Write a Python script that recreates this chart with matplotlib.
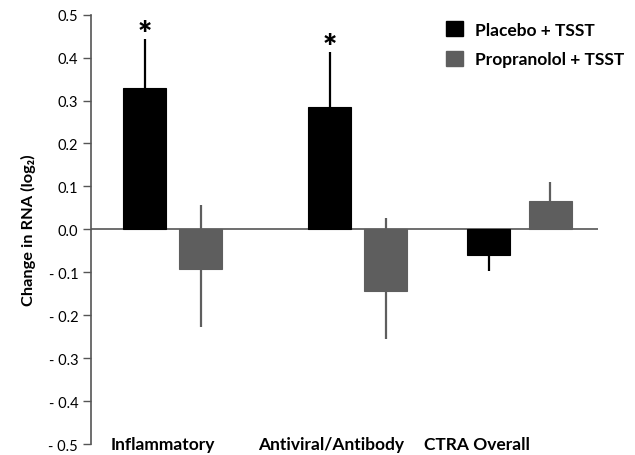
import numpy as np
import matplotlib
matplotlib.use('Agg')
import matplotlib.pyplot as plt
from matplotlib.patches import Patch

plt.rcParams['font.family'] = ['Lato', 'DejaVu Sans']

groups = ['Inflammatory', 'Antiviral/Antibody', 'CTRA Overall']
series = ['Placebo + TSST', 'Propranolol + TSST']
placebo = [0.329, 0.286, -0.059]
placebo_lo = [0.329, 0.286, -0.098]
placebo_hi = [0.443, 0.413, -0.059]
propranolol = [-0.093, -0.143, 0.065]
propranolol_lo = [-0.228, -0.255, 0.065]
propranolol_hi = [0.057, 0.026, 0.111]
signif = [True, True, False]
yticks = [0.5, 0.4, 0.3, 0.2, 0.1, 0.0, -0.1, -0.2, -0.3, -0.4, -0.5]

colors = ['#000000', '#5e5e5e']

# layout (bar units)
centers = np.array([1.91, 6.21, 9.98])
offset = np.array([0.65, 0.65, 0.715])
label_x = [1.68, 5.59, 8.98]
width = 1.0

fig = plt.figure(figsize=(6.35, 4.56), dpi=100)
ax = fig.add_axes([0.1428, 0.0241, 0.7989, 0.9415])

x1 = centers - offset
x2 = centers + offset

for xs, vals, lo, hi, c in [(x1, placebo, placebo_lo, placebo_hi, colors[0]),
                            (x2, propranolol, propranolol_lo, propranolol_hi, colors[1])]:
    ax.bar(xs, vals, width, color=c, edgecolor=c, linewidth=0.8, zorder=3)
    ax.vlines(xs, lo, hi, color=c, linewidth=1.6, zorder=2)

for i in range(3):
    if signif[i]:
        ax.text(x1[i], placebo_hi[i] - 0.028, '*', ha='center', va='bottom',
                fontsize=24, fontweight='heavy', color='black')

ax.axhline(0, color='#555555', linewidth=1.2, zorder=1)

ax.set_xlim(0, 11.8)
ax.set_ylim(-0.5, 0.5)
ax.set_yticks(yticks)
ax.set_yticklabels([('- %.1f' % abs(v)) if v < 0 else '%.1f' % v for v in yticks],
                   fontsize=10.5)
ax.tick_params(axis='y', direction='out', length=6, width=1, color='#555555', pad=3)
ax.set_xticks([])
for s in ['top', 'right', 'bottom']:
    ax.spines[s].set_visible(False)
ax.spines['left'].set_color('#555555')
ax.spines['left'].set_linewidth(1.2)

for i, g in enumerate(groups):
    ax.text(label_x[i], -0.5, g, ha='center', va='center', fontsize=12.5, fontweight='bold')

ax.set_ylabel('Change in RNA (log\u2082)', fontsize=11.8, fontweight='bold', labelpad=9)

handles = [Patch(facecolor=c, edgecolor=c) for c in colors]
fig.legend(handles, series, loc='upper left', bbox_to_anchor=(0.678, 0.985),
           frameon=False, prop={'weight': 'bold', 'size': 12.5},
           handlelength=0.95, handleheight=0.95, handletextpad=0.7, labelspacing=0.75)

fig.savefig('out.png', dpi=100)
